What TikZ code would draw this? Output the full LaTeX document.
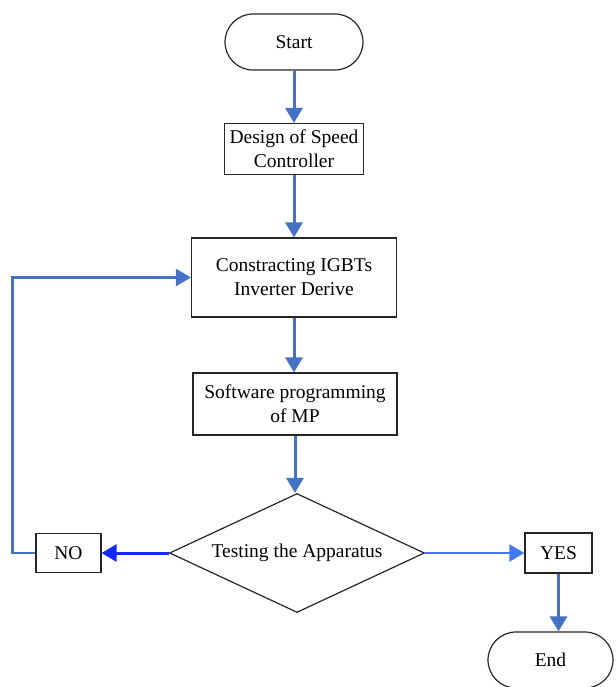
\documentclass[tikz,border=0pt]{standalone}
\usepackage{fontspec}
\setmainfont{Liberation Serif}
\usetikzlibrary{shapes.geometric,arrows.meta}
\definecolor{flowblue}{RGB}{68,114,196}
\definecolor{noblue}{RGB}{20,40,250}
\definecolor{yesblue}{RGB}{70,120,245}
\tikzset{
  box/.style={draw=black!85,line width=1.2pt,fill=white,inner sep=0pt,align=center,font=\fontsize{19.5}{24}\selectfont},
  term/.style={box,rounded corners=28pt},
  flow/.style={draw=flowblue,line width=3pt,-{Triangle[width=17pt,length=15pt]}}
}
\begin{document}
\begin{tikzpicture}[x=1pt,y=-1pt]
\useasboundingbox (0,0) rectangle (615,687);
\node[term,minimum width=138pt,minimum height=56pt] (start) at (294,42) {Start};
\node[box,minimum width=139pt,minimum height=51pt] (design) at (294,149) {Design of Speed\\Controller};
\node[box,minimum width=205pt,minimum height=79pt] (igbt) at (294,277.5) {Constracting IGBTs\\Inverter Derive};
\node[box,minimum width=204pt,minimum height=62pt] (soft) at (295,404) {Software programming\\of MP};
\node[box,diamond,aspect=2.14,minimum width=255pt,minimum height=119pt] (test) at (297,553) {Testing the Apparatus};
\node[box,minimum width=65pt,minimum height=39pt] (no) at (68.5,553) {NO};
\node[box,minimum width=67pt,minimum height=40pt] (yes) at (558.5,553) {YES};
\node[term,minimum width=125pt,minimum height=56pt] (end) at (550.5,660) {End};
\draw[flow] (start) -- (design);
\draw[flow] (design) -- (igbt);
\draw[flow] (igbt.south) -- (igbt.south |- soft.north);
\draw[flow] (soft.south) -- (soft.south |- test.north);
\draw[flow,draw=noblue] (test) -- (no);
\draw[flow,draw=yesblue,line width=2pt] (test) -- (yes);
\draw[flow] (yes.south) -- (yes.south |- end.north);
\draw[flow,line width=2.5pt] (no.west) -- ++(-23,0) |- (igbt.west);
\end{tikzpicture}
\end{document}
